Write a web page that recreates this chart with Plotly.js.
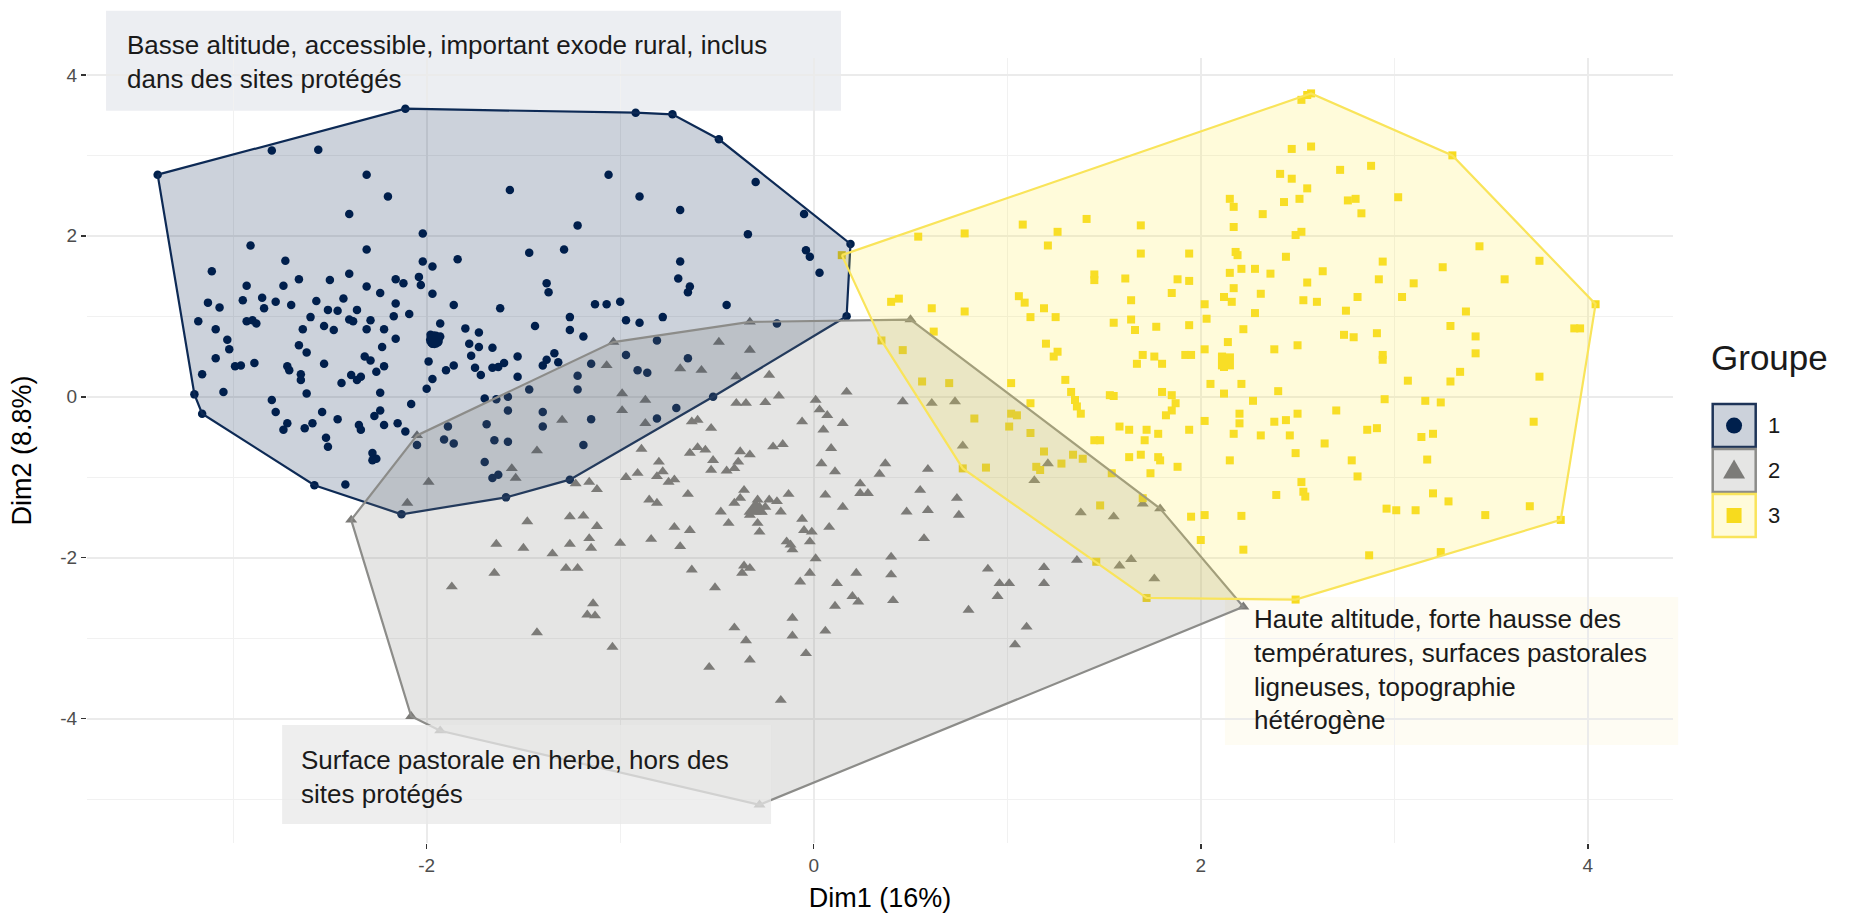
<!DOCTYPE html>
<html><head><meta charset="utf-8">
<script src="https://cdn.plot.ly/plotly-3.0.1.min.js"></script>
<style>html,body{margin:0;padding:0;background:#fff}#chart{width:1857px;height:916px}</style>
</head><body><div id="chart"></div>
<script>
// ---------------- DATA ----------------
const groupNames = ["1", "2", "3"];
const xTickVals = [-2, 0, 2, 4];
const xTickText = ["-2", "0", "2", "4"];
const yTickVals = [-4, -2, 0, 2, 4];
const yTickText = ["-4", "-2", "0", "2", "4"];
const xTitle = "Dim1 (16%)";
const yTitle = "Dim2 (8.8%)";
const legendTitle = "Groupe";
const labelTop = "Basse altitude, accessible, important exode rural, inclus<br>dans des sites protégés";
const labelBottom = "Surface pastorale en herbe, hors des<br>sites protégés";
const labelRight = "Haute altitude, forte hausse des<br>températures, surfaces pastorales<br>ligneuses, topographie<br>hétérogène";

// Group 1 (Dim1, Dim2)
const g1x = [-3.39,-3.20,-3.16,-2.11,-2.80,-2.56,-2.31,-2.20,-2.40,-1.57,-1.06,-1.22,-2.02,-2.91,-2.31,-1.47,-1.29,-1.84,-2.73,-3.11,
-2.02,-1.97,-2.40,-2.50,-2.66,-2.93,-2.74,-2.31,-2.16,-2.12,-2.04,-2.03,-2.24,-1.97,-1.38,-1.37,-3.13,-3.07,-2.95,-2.85,
-2.84,-2.78,-2.70,-2.57,-2.51,-2.46,-2.43,-2.36,-2.16,-2.09,-1.86,-1.62,-1.13,-1.07,-1.00,-3.18,-2.93,-2.90,-2.88,-2.60,
-2.40,-2.38,-2.29,-2.17,-1.93,-1.44,-1.26,-0.97,-3.09,-2.64,-2.53,-2.48,-2.31,-2.22,-1.98,-1.95,-1.97,-1.93,-1.96,-1.94,
-1.80,-1.73,-1.26,-1.19,-3.03,-2.16,-2.23,-1.78,-1.73,-1.66,-2.66,-3.02,-2.62,-3.09,-2.32,-2.29,-1.77,-1.53,-1.99,-1.34,
-0.97,-2.99,-2.96,-2.89,-2.72,-2.71,-2.53,-2.22,-2.26,-1.90,-1.86,-1.75,-1.72,-1.66,-1.63,-1.60,-1.40,-1.38,-1.32,-1.15,
-3.16,-2.65,-2.65,-2.39,-2.34,-2.36,-2.44,-1.53,-1.22,-1.97,-2.00,-1.47,-1.22,-3.05,-2.62,-2.24,-1.70,-1.64,-1.58,-2.80,
-2.78,-2.08,-2.54,-2.24,-2.27,-2.46,-1.58,-1.40,-1.15,-2.72,-2.74,-2.63,-2.59,-2.35,-2.34,-2.22,-2.15,-2.11,-1.89,-1.69,
-1.40,-2.52,-1.91,-1.86,-1.65,-1.58,-1.19,-2.51,-2.28,-2.26,-2.28,-2.05,-1.70,-1.66,-1.63,-2.42,-2.58,-2.13,-1.59,-1.26,
-0.92,-0.73,-0.49,-0.30,-0.05,0.19,-0.90,-0.69,-0.34,-0.04,-0.02,0.03,-0.69,-0.70,-0.64,-0.65,-0.45,-0.78,-0.90,0.17,
-0.19,-0.81,-0.65,-0.91,-0.86,-0.52,-0.71,-0.81];
const g1y = [2.76,0.03,-0.21,3.58,3.06,3.07,2.76,2.49,2.27,2.57,2.76,2.13,2.03,1.88,1.83,1.79,1.83,1.71,1.69,1.56,
1.68,1.62,1.53,1.45,1.46,1.38,1.38,1.37,1.46,1.41,1.49,1.39,1.29,1.28,1.41,1.30,1.17,1.11,1.20,1.23,
1.10,1.18,1.14,1.19,1.08,1.07,1.22,1.08,1.16,1.03,1.14,1.10,1.15,1.15,1.18,0.94,0.94,0.95,0.91,0.99,
0.96,0.94,0.95,1.00,0.91,0.88,0.99,0.95,0.84,0.84,0.88,0.83,0.84,0.84,0.77,0.70,0.66,0.75,0.72,0.68,
0.85,0.80,0.83,0.75,0.71,0.72,0.62,0.66,0.62,0.61,0.64,0.59,0.55,0.48,0.50,0.45,0.51,0.50,0.44,0.54,
0.52,0.38,0.39,0.42,0.38,0.33,0.41,0.38,0.31,0.33,0.39,0.36,0.27,0.36,0.37,0.42,0.39,0.46,0.43,0.41,
0.28,0.28,0.21,0.27,0.25,0.21,0.17,0.25,0.26,0.22,0.10,0.09,0.09,0.06,0.04,0.05,-0.02,-0.03,0.00,-0.04,
-0.19,-0.09,-0.19,-0.17,-0.24,-0.28,-0.17,-0.19,-0.28,-0.33,-0.41,-0.39,-0.33,-0.35,-0.41,-0.35,-0.33,-0.43,-0.37,-0.34,
-0.37,-0.51,-0.53,-0.58,-0.54,-0.56,-0.60,-0.62,-0.70,-0.77,-0.79,-0.60,-0.81,-1.01,-0.97,-1.09,-1.10,-1.46,-1.25,-1.03,
3.53,3.51,3.20,2.67,2.27,1.90,2.49,2.32,2.02,1.82,1.74,1.54,1.68,1.47,1.37,1.30,1.14,0.99,0.92,1.00,
0.91,0.70,0.48,0.33,0.30,0.00,-0.14,-0.27];

// Group 2
const g2x = [-2.39,-2.05,-1.035,-0.33,0.50,2.22,-0.28,-1.93,-2.08,-1.07,-0.99,-0.99,-1.30,
-0.49,-0.33,-0.69,-0.58,-0.40,-0.23,0.17,0.46,0.61,0.73,-0.87,-0.40,-0.35,-0.25,-0.18,0.01,0.03,0.07,-0.06,0.05,0.15,-0.87,-0.53,-0.63,-0.60,
-1.43,-1.56,-1.54,-1.99,-2.10,-1.23,-1.16,-1.12,-0.97,-1.48,-1.26,-1.19,-1.12,-1.64,-1.50,-1.35,-1.26,-1.16,-1.15,-1.00,-1.65,-1.28,-1.22,-1.87,-1.14,-1.17,-1.13,-1.43,-1.04,
-0.89,-0.64,-0.60,-0.56,-0.52,-0.53,-0.45,-0.41,-0.39,-0.38,-0.33,-0.21,-0.16,0.09,0.04,0.11,0.37,0.34,0.59,0.77,-0.80,-0.78,-0.81,-0.75,-0.72,-0.91,
-0.65,-0.85,-0.81,-0.36,-0.38,-0.41,-0.29,-0.28,-0.30,-0.33,-0.27,-0.25,-0.23,-0.19,-0.13,-0.17,-0.48,-0.44,-0.29,-0.28,0.06,0.15,0.24,0.24,0.28,0.55,
0.48,0.59,0.74,0.75,-0.06,-0.72,-0.64,-0.84,-0.69,-0.05,-0.01,-0.02,-0.14,-0.11,-0.12,0.08,0.01,0.57,-0.63,-0.36,-0.37,-0.33,-0.51,-0.02,-0.07,0.12,
0.22,0.20,0.23,0.11,0.40,0.40,0.41,0.90,0.96,1.01,0.95,0.80,1.19,1.19,1.36,1.38,1.21,1.14,-0.41,-0.35,-0.33,-0.54,-0.11,-0.11,-0.04,0.06,1.10,1.04,-0.17,
1.55,1.70,1.79,1.58,1.64,1.76];
const g2y = [-1.53,-0.48,0.68,0.93,0.96,-2.61,-5.07,-4.15,-3.97,0.39,0.04,-0.17,-0.29,
0.68,0.58,0.35,0.33,0.25,0.27,0.06,-0.06,-0.08,-0.06,-0.04,-0.08,-0.08,-0.07,0.01,-0.04,-0.16,-0.23,-0.31,-0.41,-0.33,-0.33,-0.39,-0.31,-0.29,
-0.67,-0.89,-1.01,-1.06,-1.32,-1.08,-1.06,-1.15,-1.00,-1.55,-1.49,-1.48,-1.61,-1.83,-1.88,-1.95,-1.83,-1.76,-1.88,-1.82,-2.19,-2.13,-2.13,-2.36,-2.57,-2.71,-2.72,-2.93,-3.11,
-0.65,-0.70,-0.63,-0.66,-0.79,-0.91,-0.92,-0.89,-0.81,-0.68,-0.72,-0.62,-0.59,-0.64,-0.83,-0.93,-0.83,-0.96,-0.90,-0.61,-0.81,-0.93,-0.99,-1.06,-1.03,-0.95,
-1.21,-1.28,-1.32,-1.16,-1.26,-1.32,-1.28,-1.37,-1.43,-1.47,-1.43,-1.37,-1.28,-1.30,-1.21,-1.43,-1.43,-1.57,-1.57,-1.68,-1.22,-1.37,-1.08,-1.20,-1.20,-1.16,
-1.43,-1.41,-1.26,-1.47,-1.52,-1.62,-1.66,-1.77,-1.86,-1.66,-1.68,-1.80,-1.80,-1.90,-1.84,-1.62,-2.01,-1.76,-2.15,-2.10,-2.19,-2.13,-2.37,-2.19,-2.30,-2.32,
-2.19,-2.48,-2.55,-2.60,-1.99,-2.21,-2.53,-2.14,-2.32,-2.32,-2.48,-2.65,-2.12,-2.32,-2.03,-1.44,-0.83,-1.04,-2.87,-3.03,-3.27,-3.36,-2.75,-2.97,-3.19,-2.91,-2.86,-3.08,-3.77,
-1.49,-1.33,-1.39,-2.10,-2.02,-2.26];

// Group 3
const g3x = [2.55,2.57,2.52,3.30,4.04,2.47,2.57,2.72,2.88,2.41,2.47,2.55,2.51,2.43,2.76,2.80,2.83,3.02,2.15,2.17,
2.32,1.69,2.17,2.49,2.52,1.69,1.94,2.18,2.19,2.44,2.94,3.44,3.75,3.57,3.25,1.61,1.88,1.94,2.15,2.21,
2.28,2.36,2.63,2.55,2.92,3.10,1.64,1.85,2.02,2.12,2.16,2.17,2.31,2.53,2.60,2.81,3.04,1.55,1.64,1.66,
1.77,1.94,2.03,2.22,2.28,2.75,3.37,3.29,3.93,3.96,2.74,2.79,2.91,3.42,3.42,2.14,2.50,2.38,2.94,2.94,
1.70,1.67,1.76,1.80,1.92,1.95,2.02,2.11,2.12,2.14,3.75,3.34,3.29,3.07,2.05,2.12,2.21,2.40,1.80,1.85,
1.87,1.85,1.82,1.55,2.27,2.95,3.16,3.24,3.72,2.02,2.20,2.20,2.17,2.50,2.70,2.38,2.44,2.46,1.94,1.58,
1.63,1.72,1.78,1.71,2.86,2.91,3.14,3.20,2.31,2.64,
0.145,0.54,0.78,1.08,1.21,1.26,1.41,1.45,1.45,
0.35,0.46,0.56,0.70,0.83,1.02,1.05,1.01,1.12,1.19,1.15,1.17,1.28,1.34,1.39,0.77,0.89,1.48,1.46,1.72,
1.02,1.12,0.61,0.62,0.40,0.44,0.78,1.54,1.70,1.06,1.09,1.12,1.19,1.25,1.20,1.24,1.26,1.30,1.33,1.35,
1.36,1.38,1.53,1.45,1.48,2.00,2.22,
1.63,1.69,1.78,1.79,1.88,1.74,2.15,2.49,2.78,2.81,3.17,2.52,2.53,2.54,2.39,3.20,3.28,2.96,3.01,3.11,
3.47,3.70,3.86,1.95,2.02,2.21,2.87,3.24,2.49];
const g3y = [3.75,3.77,3.69,3.00,1.15,3.08,3.11,2.82,2.87,2.77,2.71,2.59,2.46,2.42,2.44,2.46,2.28,2.48,2.46,2.36,
2.27,2.13,2.11,2.01,2.05,1.78,1.78,1.80,1.76,1.74,1.68,1.87,1.69,1.46,1.61,1.47,1.46,1.44,1.54,1.59,
1.59,1.53,1.56,1.42,1.46,1.41,1.20,1.29,1.15,1.24,1.18,1.35,1.28,1.20,1.18,1.24,1.24,0.92,0.96,0.83,
0.87,0.89,0.97,0.84,1.04,1.07,1.06,0.88,0.85,0.85,0.77,0.74,0.79,0.75,0.54,0.68,0.64,0.59,0.52,0.46,
0.52,0.41,0.50,0.41,0.52,0.52,0.59,0.50,0.37,0.41,0.25,0.31,0.19,0.20,0.16,0.04,0.16,0.07,0.06,0.02,
-0.08,-0.17,-0.23,0.01,-0.05,-0.03,-0.05,-0.07,-0.31,-0.30,-0.21,-0.33,-0.46,-0.21,-0.17,-0.31,-0.29,-0.48,-0.41,-0.37,
-0.41,-0.41,-0.46,-0.54,-0.41,-0.39,-0.50,-0.46,-0.48,-0.58,
1.76,1.99,2.03,2.14,1.88,2.05,2.21,1.52,1.45,
0.70,0.58,0.19,0.17,-0.27,-0.21,-0.23,-0.37,-0.45,-0.68,-0.87,-0.91,-0.83,-0.72,-0.77,-0.89,-0.88,-1.35,-2.05,-2.50,
0.17,-0.08,1.10,0.81,1.18,1.22,1.06,-0.95,-1.26,1.25,1.17,0.99,1.10,0.99,0.66,0.50,0.56,0.21,0.06,-0.04,
-0.12,-0.21,0.02,-0.54,-0.54,-1.78,-1.90,
-0.75,-0.72,-0.75,-0.79,-0.87,-0.95,-0.79,-0.70,-0.79,-0.99,-0.78,-1.06,-1.18,-1.24,-1.22,-1.20,-1.30,-1.39,-1.41,-1.41,
-1.47,-1.36,-1.53,-1.49,-1.47,-1.48,-1.97,-1.93,-2.52];

// Cluster centres (large markers)
const centreX = [-1.96, -0.30, 2.13];
const centreY = [0.71, -1.40, 0.44];

// ---------------- STYLE ----------------
const markerColor = ["#00204D", "#7C7B78", "#F7DB1E"];
const lineColor = ["#0d2a55", "#8c8c89", "#F9E45A"];
const fillColor = ["rgba(0,32,77,0.2)", "rgba(124,123,120,0.2)", "rgba(255,234,70,0.2)"];
const symbols = ["circle", "triangle-up", "square"];
const sizes = [8.5, 10.5, 8];
const FONT = "Liberation Sans, Arial, Helvetica, sans-serif";

function convexHull(xs, ys) {
  const pts = xs.map((x, i) => [x, ys[i]]).sort((a, b) => a[0] - b[0] || a[1] - b[1]);
  const cross = (o, a, b) => (a[0] - o[0]) * (b[1] - o[1]) - (a[1] - o[1]) * (b[0] - o[0]);
  const lower = [], upper = [];
  for (const p of pts) { while (lower.length >= 2 && cross(lower[lower.length - 2], lower[lower.length - 1], p) <= 0) lower.pop(); lower.push(p); }
  for (let i = pts.length - 1; i >= 0; i--) { const p = pts[i]; while (upper.length >= 2 && cross(upper[upper.length - 2], upper[upper.length - 1], p) <= 0) upper.pop(); upper.push(p); }
  upper.pop(); lower.pop();
  const h = lower.concat(upper); h.push(h[0]);
  return { x: h.map(p => p[0]), y: h.map(p => p[1]) };
}

const groupsX = [g1x, g2x, g3x];
const groupsY = [g1y, g2y, g3y];
const traces = [];
for (let i = 0; i < 3; i++) {
  traces.push({ type: "scatter", mode: "markers", x: groupsX[i], y: groupsY[i], name: groupNames[i],
    marker: { symbol: symbols[i], size: sizes[i], color: markerColor[i], line: { width: 0 } }, hoverinfo: "x+y" });
}
for (let i = 0; i < 3; i++) {
  traces.push({ type: "scatter", mode: "markers", x: [centreX[i]], y: [centreY[i]], showlegend: false,
    marker: { symbol: symbols[i], size: sizes[i] * 2, color: markerColor[i], line: { width: 0 } }, hoverinfo: "skip" });
}
for (let i = 0; i < 3; i++) {
  const h = convexHull(groupsX[i], groupsY[i]);
  traces.push({ type: "scatter", mode: "lines", x: h.x, y: h.y, fill: "toself", fillcolor: fillColor[i],
    line: { color: lineColor[i], width: 2.2 }, hoverinfo: "skip", showlegend: false });
}

const shapes = [
  // label boxes
  { type: "rect", xref: "paper", yref: "paper", x0: 0.0120, x1: 0.4754, y0: 0.9329, y1: 1.0603, layer: "below", line: { width: 0 }, fillcolor: "rgba(0,32,77,0.075)" },
  { type: "rect", xref: "paper", yref: "paper", x0: 0.1230, x1: 0.4313, y0: 0.0242, y1: 0.1503, layer: "above", line: { width: 0 }, fillcolor: "rgba(232,232,232,0.75)" },
  { type: "rect", xref: "paper", yref: "paper", x0: 0.7175, x1: 1.0032, y0: 0.1248, y1: 0.3134, layer: "below", line: { width: 0 }, fillcolor: "rgba(245,225,140,0.1)" }
];
const legTops = [0.5605, 0.5032, 0.4459];
const legCentres = [0.5318, 0.4745, 0.4172];
const legBoxFill = ["#ccd2db", "#e5e5e4", "#fffbda"];
const legBoxLine = ["#1e3458", "#8c8c89", "#F9E45A"];
for (let i = 0; i < 3; i++) {
  shapes.push({ type: "rect", xref: "paper", yref: "paper", xsizemode: "pixel", ysizemode: "pixel",
    xanchor: 1.0244, yanchor: legTops[i], x0: 1, x1: 44, y0: -1, y1: -44, layer: "above",
    fillcolor: legBoxFill[i], line: { color: legBoxLine[i], width: 2.5 } });
}
shapes.push({ type: "circle", xref: "paper", yref: "paper", xsizemode: "pixel", ysizemode: "pixel",
  xanchor: 1.0385, yanchor: legCentres[0], x0: -8, x1: 8, y0: -8, y1: 8, layer: "above",
  fillcolor: markerColor[0], line: { width: 0 } });
shapes.push({ type: "path", xref: "paper", yref: "paper", xsizemode: "pixel", ysizemode: "pixel",
  xanchor: 1.0385, yanchor: legCentres[1], path: "M -11,-8 L 11,-8 L 0,11 Z", layer: "above",
  fillcolor: markerColor[1], line: { width: 0 } });
shapes.push({ type: "rect", xref: "paper", yref: "paper", xsizemode: "pixel", ysizemode: "pixel",
  xanchor: 1.0385, yanchor: legCentres[2], x0: -7.5, x1: 7.5, y0: -7.5, y1: 7.5, layer: "above",
  fillcolor: markerColor[2], line: { width: 0 } });

const annotations = [
  { xref: "paper", yref: "paper", x: 0.0240, y: 0.9954, xanchor: "left", yanchor: "middle", align: "left", showarrow: false, text: labelTop, font: { size: 26, color: "#1a1a1a", family: FONT } },
  { xref: "paper", yref: "paper", x: 0.1335, y: 0.0847, xanchor: "left", yanchor: "middle", align: "left", showarrow: false, text: labelBottom, font: { size: 26, color: "#1a1a1a", family: FONT } },
  { xref: "paper", yref: "paper", x: 0.7345, y: 0.2204, xanchor: "left", yanchor: "middle", align: "left", showarrow: false, text: labelRight, font: { size: 26, color: "#1a1a1a", family: FONT } },
  { xref: "paper", yref: "paper", x: 1.0225, y: 0.6191, xanchor: "left", yanchor: "middle", align: "left", showarrow: false, text: legendTitle, font: { size: 35, color: "#1a1a1a", family: FONT } }
];
for (let i = 0; i < 3; i++) {
  annotations.push({ xref: "paper", yref: "paper", x: 1.0585, y: legCentres[i], xanchor: "left", yanchor: "middle", showarrow: false, text: groupNames[i], font: { size: 22, color: "#1a1a1a", family: FONT } });
}

const layout = {
  width: 1857, height: 916,
  margin: { l: 87, r: 184, t: 58, b: 73 },
  paper_bgcolor: "#ffffff", plot_bgcolor: "rgba(0,0,0,0)",
  showlegend: false,
  font: { family: FONT },
  xaxis: {
    range: [-3.755, 4.44], tickmode: "array", tickvals: xTickVals, ticktext: xTickText,
    showgrid: true, gridcolor: "#ebebeb", gridwidth: 2, zeroline: false, showline: false,
    ticks: "outside", ticklen: 5, tickwidth: 1.5, tickcolor: "#333333",
    tickfont: { size: 19, color: "#4d4d4d", family: FONT },
    minor: { tickmode: "array", tickvals: [-3, -1, 1, 3], showgrid: true, gridcolor: "#f1f1f1", gridwidth: 1 },
    title: { text: xTitle, font: { size: 27, color: "#000000", family: FONT }, standoff: 13 }
  },
  yaxis: {
    range: [-5.545, 4.21], tickmode: "array", tickvals: yTickVals, ticktext: yTickText,
    showgrid: true, gridcolor: "#ebebeb", gridwidth: 2, zeroline: false, showline: false,
    ticks: "outside", ticklen: 5, tickwidth: 1.5, tickcolor: "#333333",
    tickfont: { size: 19, color: "#4d4d4d", family: FONT },
    minor: { tickmode: "array", tickvals: [-5, -3, -1, 1, 3], showgrid: true, gridcolor: "#f1f1f1", gridwidth: 1 },
    title: { text: yTitle, font: { size: 27, color: "#000000", family: FONT }, standoff: 20 }
  },
  shapes: shapes,
  annotations: annotations
};

Plotly.newPlot("chart", traces, layout, { displayModeBar: false, staticPlot: true });
</script>
</body></html>
